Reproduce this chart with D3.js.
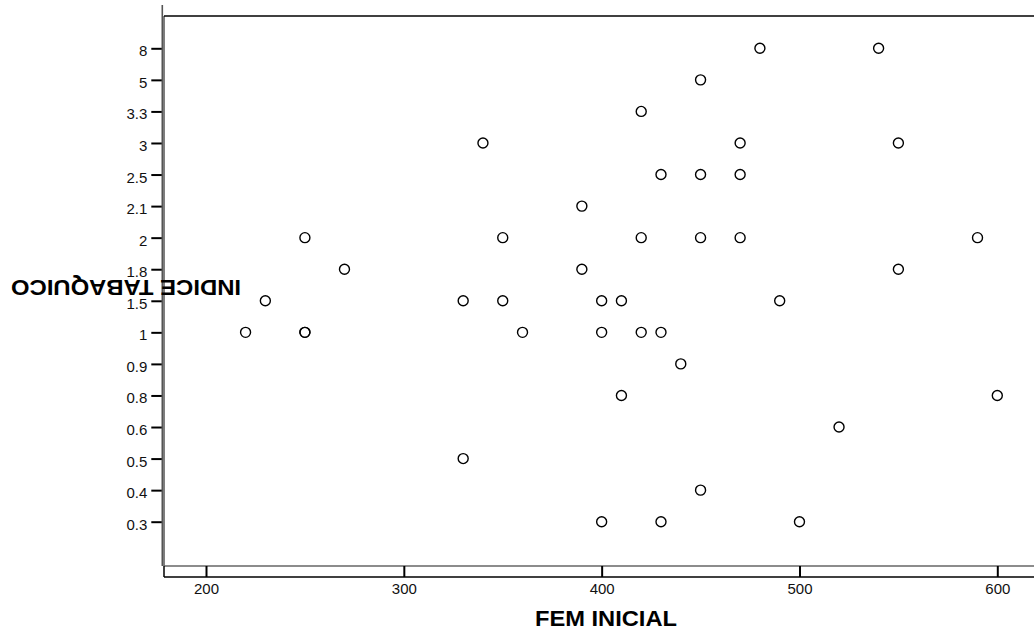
<!DOCTYPE html>
<html>
<head>
<meta charset="utf-8">
<script src="https://cdn.jsdelivr.net/npm/d3@7"></script>
<style>
  html, body { margin: 0; padding: 0; background: #fff; }
  svg { display: block; font-family: "Liberation Sans", Arial, Helvetica, sans-serif; }
</style>
</head>
<body>
<svg id="chart" width="1034" height="633"></svg>
<script>
// Ordinal categories of the smoking index, bottom to top
const indexLevels = ["0.3", "0.4", "0.5", "0.6", "0.8", "0.9", "1", "1.5", "1.8", "2", "2.1", "2.5", "3", "3.3", "5", "8"];
// Initial peak expiratory flow for each subject
const femValues = [220, 230, 250, 250, 250, 270, 330, 330, 340, 350, 350, 360, 390, 390, 400, 400, 400,
                   410, 410, 420, 420, 420, 430, 430, 430, 440, 450, 450, 450, 450, 470, 470, 470,
                   480, 490, 500, 520, 540, 550, 550, 590, 600];
// Smoking index for the same subjects (category labels)
const indexValues = ["1", "1.5", "2", "1", "1", "1.8", "1.5", "0.5", "3", "2", "1.5", "1", "2.1", "1.8", "1.5", "1", "0.3",
                     "1.5", "0.8", "3.3", "2", "1", "2.5", "1", "0.3", "0.9", "5", "2.5", "2", "0.4", "3", "2.5", "2",
                     "8", "1.5", "0.3", "0.6", "8", "3", "1.8", "2", "0.8"];
const xTicks = [200, 300, 400, 500, 600];
const xTitle = "FEM INICIAL";
const yTitle = "INDICE TABAQUICO";

const svg = d3.select("#chart");

// Frame geometry
const frameLeft = 164, frameRight = 1034, frameTop = 16, frameBottom = 566, axisY = 577;

const x = d3.scaleLinear().domain([200, 600]).range([206, 997.3]);
const y = d3.scalePoint().domain(indexLevels).range([521.7, 48.3]);

// Plot frame: top edge, inner left edge, gray bottom edge
svg.append("line").attr("x1", frameLeft).attr("x2", frameRight).attr("y1", frameTop).attr("y2", frameTop)
  .attr("stroke", "#000").attr("stroke-width", 1.5);
svg.append("line").attr("x1", frameLeft).attr("x2", frameLeft).attr("y1", frameTop).attr("y2", frameBottom)
  .attr("stroke", "#000").attr("stroke-width", 1);
svg.append("line").attr("x1", frameLeft).attr("x2", frameRight).attr("y1", frameBottom).attr("y2", frameBottom)
  .attr("stroke", "#666").attr("stroke-width", 1.5);

// Y axis
const yAxis = svg.append("g").attr("transform", "translate(162.3,0)")
  .call(d3.axisLeft(y).tickSize(11).tickPadding(4));
yAxis.select(".domain").remove();
svg.append("line").attr("x1", 162.3).attr("x2", 162.3).attr("y1", 5).attr("y2", frameBottom)
  .attr("stroke", "#555").attr("stroke-width", 1.6);
yAxis.selectAll(".tick line").attr("stroke", "#000").attr("stroke-width", 2);
yAxis.selectAll(".tick text").attr("font-size", 15).attr("fill", "#111")
  .attr("font-family", "Liberation Sans, Arial, sans-serif").attr("dy", "0.5em");

// X axis
const xAxis = svg.append("g").attr("transform", `translate(0,${axisY})`)
  .call(d3.axisTop(x).tickValues(xTicks).tickSize(11).tickFormat(d3.format("d")));
xAxis.select(".domain").remove();
xAxis.selectAll(".tick line").attr("stroke", "#000").attr("stroke-width", 2);
xAxis.selectAll(".tick text").attr("font-size", 15).attr("fill", "#111")
  .attr("font-family", "Liberation Sans, Arial, sans-serif")
  .attr("y", 17).attr("dy", "0");
svg.append("line").attr("x1", frameLeft).attr("x2", frameRight).attr("y1", axisY).attr("y2", axisY)
  .attr("stroke", "#000").attr("stroke-width", 1.5);
svg.append("line").attr("x1", frameLeft).attr("x2", frameLeft).attr("y1", frameBottom).attr("y2", axisY)
  .attr("stroke", "#000").attr("stroke-width", 1.5);

// Axis titles
svg.append("text").attr("x", 606).attr("y", 626).attr("text-anchor", "middle")
  .attr("font-size", 22).attr("font-weight", "bold").attr("fill", "#000")
  .attr("textLength", 142).attr("lengthAdjust", "spacingAndGlyphs")
  .text(xTitle);
svg.append("text").attr("transform", "translate(126,280) rotate(180)").attr("text-anchor", "middle")
  .attr("font-size", 22).attr("font-weight", "bold").attr("fill", "#000")
  .attr("textLength", 230).attr("lengthAdjust", "spacingAndGlyphs")
  .text(yTitle);

// Points
const points = femValues.map((v, i) => ({ fem: v, idx: indexValues[i] }));
svg.append("g").selectAll("circle").data(points).join("circle")
  .attr("cx", d => x(d.fem)).attr("cy", d => y(d.idx)).attr("r", 5)
  .attr("fill", "none").attr("stroke", "#000").attr("stroke-width", 1.4);
</script>
</body>
</html>
